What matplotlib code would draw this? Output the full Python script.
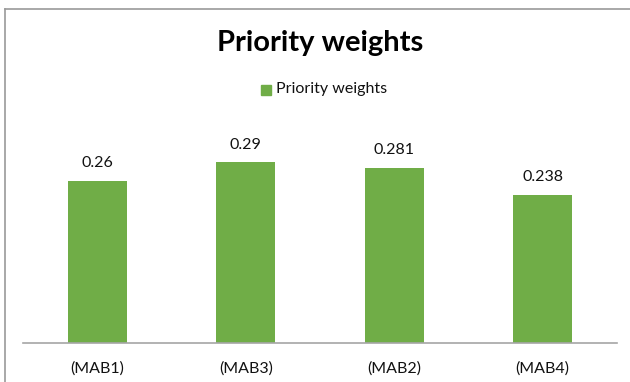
import matplotlib.pyplot as plt
from matplotlib.lines import Line2D

plt.rcParams['font.family'] = ['Lato', 'DejaVu Sans']

# data
categories = ['(MAB1)', '(MAB3)', '(MAB2)', '(MAB4)']
weights = [0.26, 0.29, 0.281, 0.238]
series_name = 'Priority weights'

green = '#70AD47'
W, H = 630, 382

fig = plt.figure(figsize=(W / 100, H / 100), dpi=100)

# plot area in pixel terms
left, right, top, bottom = 23, 617, 105, 343
ax = fig.add_axes([left / W, (H - bottom) / H, (right - left) / W, (bottom - top) / H])

x = range(len(categories))
bars = ax.bar(x, weights, width=0.4, color=green)
ax.set_xlim(-0.5, len(categories) - 0.5)
ax.set_ylim(0, (bottom - top) / 623)

for xi, v in zip(x, weights):
    ax.text(xi, v + 0.017, f'{v:g}', ha='center', va='bottom', fontsize=11.5, color='#111111')

ax.set_xticks(list(x))
ax.set_xticklabels(categories, fontsize=11.5, color='#111111')
ax.tick_params(axis='x', length=0, pad=13)
ax.set_yticks([])
for s in ['left', 'right', 'top']:
    ax.spines[s].set_visible(False)
ax.spines['bottom'].set_color('#a6a6a6')
ax.spines['bottom'].set_linewidth(1.2)

# title and legend
fig.text(320 / W, 1 - 43 / H, 'Priority weights', ha='center', va='center',
         fontsize=21, fontweight='bold', color='black')
fig.patches.append(plt.Rectangle((261 / W, 1 - 95 / H), 10 / W, 10 / H,
                                 transform=fig.transFigure, color=green))
fig.text(276 / W, 1 - 89 / H, series_name, ha='left', va='center', fontsize=11.5, color='#111111')

# chart border (top and left visible)
fig.add_artist(Line2D([5 / W, 1], [1 - 9 / H, 1 - 9 / H], transform=fig.transFigure,
                      color='#9a9a9a', lw=1.2))
fig.add_artist(Line2D([5 / W, 5 / W], [0, 1 - 9 / H], transform=fig.transFigure,
                      color='#9a9a9a', lw=1.2))

fig.savefig('out.png', dpi=100)
